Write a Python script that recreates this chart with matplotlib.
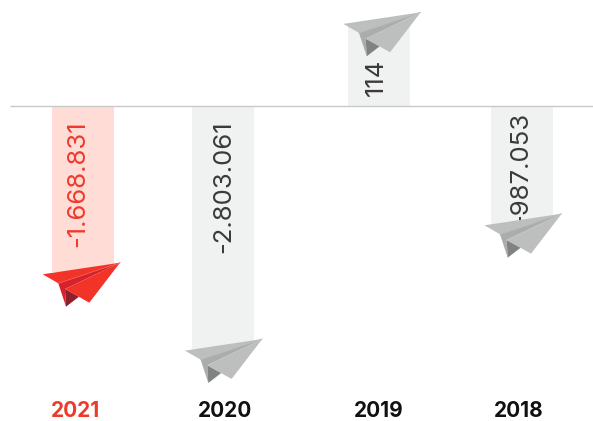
import numpy as np
import matplotlib
matplotlib.use('Agg')
import matplotlib.pyplot as plt
from matplotlib.patches import Polygon
from matplotlib.transforms import Affine2D

years = ['2021', '2020', '2019', '2018']
values = [-1668831, -2803061, 114, -987053]
value_labels = ['-1.668.831', '-2.803.061', '114', '-987.053']

# where each column and year label sits across the sheet
bar_x = [83, 223, 379, 522]
year_x = [75, 225, 379, 519]

# axis is not linear: short columns get stretched so the plane and label fit
scale_vals = [-3849000, -2803061, -1668831, -987053, 0, 114, 145]
scale_pos = [-315, -243, -166, -118, 0, 81, 106]

RED = {'bar': '#FFDDD6', 'text': '#EE3A2A', 'wing': '#F23327', 'fold': '#D6222C', 'dark': '#8E1F2B', 'crease': '#F25A4E'}
GREY = {'bar': '#F0F2F1', 'text': '#3A3A3A', 'wing': '#BDBEBE', 'fold': '#ABACAD', 'dark': '#808284', 'crease': '#B8B9B9'}

plt.rcParams['font.family'] = ['Inter', 'DejaVu Sans']


def forward(v):
    return np.interp(v, scale_vals, scale_pos)


def inverse(p):
    return np.interp(p, scale_pos, scale_vals)


# plane outline in pixels, measured from the nose, y pointing down
NOSE = (120, 262.7)
WING_L = [(120, 262.7), (42.7, 274.3), (58.3, 283.3)]
STRIP = [(120, 262.7), (58.3, 283.3), (66, 306.7), (65, 289)]
TAIL = [(65, 289), (66, 306.7), (79, 296.7)]
WING_R = [(120, 262.7), (65, 289), (89.3, 302.7)]


def draw_plane(ax, nose_x, nose_y, c):
    # nose_x, nose_y are pixels from the top left of the figure
    tr = Affine2D().translate(-NOSE[0], -NOSE[1]).translate(nose_x, nose_y).scale(1, -1).translate(0, 421)
    for pts, col in [(WING_L, c['wing']), (STRIP, c['fold']), (TAIL, c['dark']), (WING_R, c['wing'])]:
        ax.add_patch(Polygon(pts, closed=True, fc=col, ec='none', transform=tr, zorder=4))
    ax.plot([58.3, 120], [283.3, 262.7], color=c['crease'], lw=0.6, transform=tr, zorder=5)


fig = plt.figure(figsize=(5.93, 4.21), dpi=100)
ax = fig.add_axes([0, 0, 1, 1])
ax.set_yscale('function', functions=(forward, inverse))
ax.set_xlim(0, 593)
ax.set_ylim(scale_vals[0], scale_vals[-1])
ax.axis('off')

palette = [RED, GREY, GREY, GREY]
nose_offsets = [(37, -9.3), (39.3, -10), (41.7, 12.3 - 25), (39.7, -10.3)]
label_x = [78, 224, 376, 521]
label_gap = [-14, -14, 10, -6]

ax.bar(bar_x, values, width=62, color=[c['bar'] for c in palette], zorder=1)
ax.plot([10, 593], [0, 0], color='#C9C9C9', lw=1, zorder=2, solid_capstyle='butt')

for i, v in enumerate(values):
    c = palette[i]
    # rotated value label hangs from the baseline, positive ones stand on it
    ax.annotate(value_labels[i], xy=(label_x[i], 0), xytext=(0, label_gap[i]),
                textcoords='offset pixels', rotation=90, ha='center',
                va='bottom' if v > 0 else 'top', color=c['text'], fontsize=18.5, zorder=3)
    end_y = 106 - forward(v)
    draw_plane(ax, bar_x[i] + nose_offsets[i][0], end_y + nose_offsets[i][1], c)
    ax.text(year_x[i], 0.024, years[i], transform=ax.get_xaxis_transform(), ha='center', va='center',
            fontsize=15, fontweight='bold', color=c['text'] if i == 0 else '#111111')

fig.savefig('out.png', dpi=100)
